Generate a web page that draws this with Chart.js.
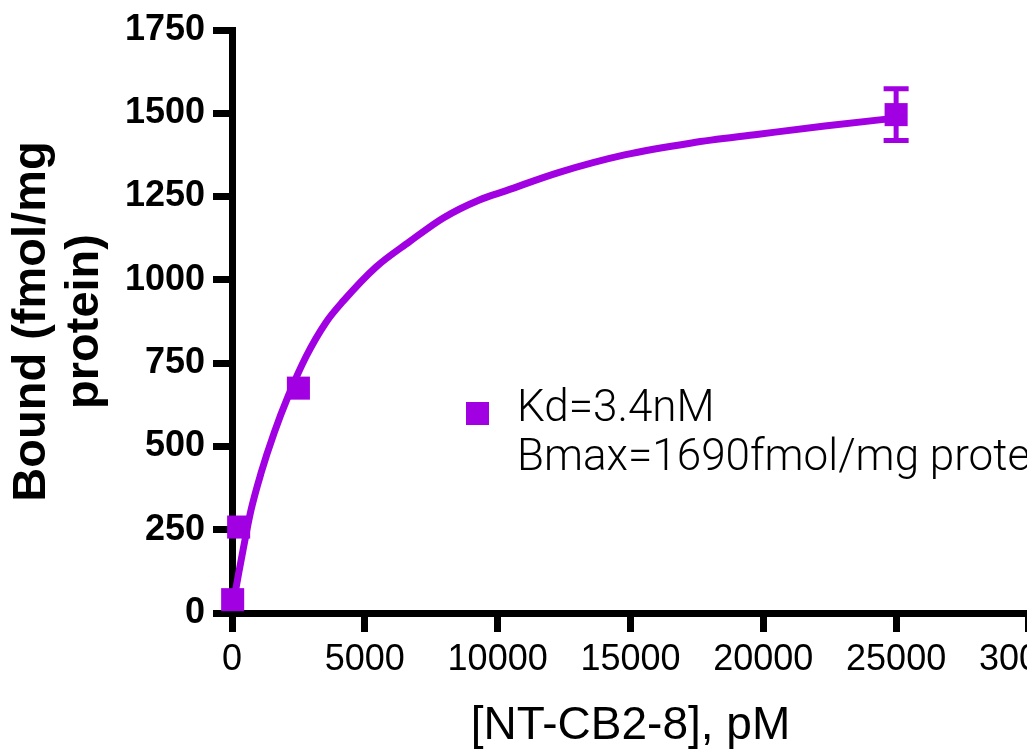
<!DOCTYPE html>
<html>
<head>
<meta charset="utf-8">
<script src="https://cdn.jsdelivr.net/npm/chart.js@4"></script>
<style>
  html, body { margin: 0; padding: 0; background: #fff; overflow: hidden; }
  #wrap { width: 1085px; height: 756px; }
</style>
</head>
<body>
<div id="wrap"><canvas id="bindingChart" width="1085" height="756"></canvas></div>
<script>
// concentrations in pM, bound in fmol/mg protein
const pointX = [25, 250, 2500, 25000];
const pointY = [40, 258, 675, 1496];
const pointErr = [10, 20, 25, 78];

// fitted curve
const curveX = [25, 120, 264, 415, 716, 1093, 1583, 2111, 2789, 3543, 4184, 5428, 6672, 7953, 9310, 10328, 12288, 14776, 17301, 19827, 22314, 24463, 25000];
const curveY = [12, 60, 125, 189, 309, 420, 540, 650, 770, 873, 936, 1039, 1114, 1186, 1240, 1268, 1322, 1375, 1411, 1437, 1462, 1481, 1485];

const legendLines = ['Kd=3.4nM', 'Bmax=1690fmol/mg protein'];
const xTitle = '[NT-CB2-8], pM';
const yTitle = ['Bound (fmol/mg', 'protein)'];

const purple = '#a100e2';

// Prism style error bars (hidden when shorter than the marker)
const errorBars = {
  id: 'errorBars',
  afterDatasetsDraw(chart) {
    const ctx = chart.ctx;
    const xs = chart.scales.x, ys = chart.scales.y;
    ctx.save();
    ctx.strokeStyle = purple;
    ctx.lineWidth = 5;
    pointX.forEach((xv, i) => {
      const px = xs.getPixelForValue(xv);
      const top = ys.getPixelForValue(pointY[i] + pointErr[i]);
      const bot = ys.getPixelForValue(pointY[i] - pointErr[i]);
      if (bot - top < 26) return;
      ctx.beginPath();
      ctx.moveTo(px, top); ctx.lineTo(px, bot);
      ctx.moveTo(px - 12.5, top); ctx.lineTo(px + 12.5, top);
      ctx.moveTo(px - 12.5, bot); ctx.lineTo(px + 12.5, bot);
      ctx.stroke();
    });
    ctx.restore();
  }
};

// legend box inside the plot
const fitLegend = {
  id: 'fitLegend',
  afterDraw(chart) {
    const ctx = chart.ctx;
    const a = chart.chartArea;
    ctx.save();
    ctx.fillStyle = purple;
    ctx.fillRect(a.left + 234, 402, 23, 23);
    ctx.fillStyle = '#000';
    ctx.font = '300 44px Roboto, "Liberation Sans", sans-serif';
    ctx.textBaseline = 'middle';
    ctx.fillText(legendLines[0], a.left + 285, 410);
    ctx.fillText(legendLines[1], a.left + 285, 459);
    ctx.restore();
  }
};

const ctx = document.getElementById('bindingChart').getContext('2d');
new Chart(ctx, {
  type: 'scatter',
  data: {
    datasets: [
      {
        label: 'fit',
        type: 'line',
        data: curveX.map((x, i) => ({ x: x, y: curveY[i] })),
        borderColor: purple,
        borderWidth: 7,
        pointRadius: 0,
        cubicInterpolationMode: 'monotone',
        fill: false,
      },
      {
        label: 'data',
        data: pointX.map((x, i) => ({ x: x, y: pointY[i] })),
        pointStyle: 'rect',
        pointRadius: 16.3,
        pointHoverRadius: 16.3,
        backgroundColor: purple,
        borderWidth: 0,
        clip: false,
      },
    ],
  },
  options: {
    responsive: false,
    animation: false,
    events: [],
    layout: { padding: { top: 30, right: 0, bottom: 0, left: 0 } },
    plugins: { legend: { display: false }, tooltip: { enabled: false } },
    scales: {
      x: {
        type: 'linear',
        min: 0,
        max: 30000,
        z: 1,
        afterFit(s) { s.height = 143; },
        border: { display: true, color: '#000', width: 7 },
        grid: { drawOnChartArea: false, drawTicks: true, tickLength: 19, tickWidth: 7, tickColor: '#000' },
        ticks: {
          stepSize: 5000, autoSkip: false, maxRotation: 0, padding: 6, color: '#000',
          font: { family: '"Liberation Sans", Arial, sans-serif', size: 36 },
          callback: v => String(v),
        },
        title: {
          display: true, text: xTitle, color: '#000',
          font: { family: '"Liberation Sans", Arial, sans-serif', size: 46 },
          padding: { top: 0, bottom: 2 },
        },
      },
      y: {
        min: 0,
        max: 1750,
        z: 1,
        afterFit(s) { s.width = 232; },
        border: { display: true, color: '#000', width: 7 },
        grid: { drawOnChartArea: false, drawTicks: true, tickLength: 19, tickWidth: 7, tickColor: '#000' },
        ticks: {
          stepSize: 250, padding: 8, color: '#000',
          font: { family: '"Liberation Sans", Arial, sans-serif', size: 36, weight: 'bold' },
          callback: v => String(v),
        },
        title: {
          display: true, text: yTitle, color: '#000',
          font: { family: '"Liberation Sans", Arial, sans-serif', size: 47, weight: 'bold', lineHeight: 1.14 },
          padding: { top: 5, bottom: 0 },
        },
      },
    },
  },
  plugins: [errorBars, fitLegend],
});
</script>
</body>
</html>
